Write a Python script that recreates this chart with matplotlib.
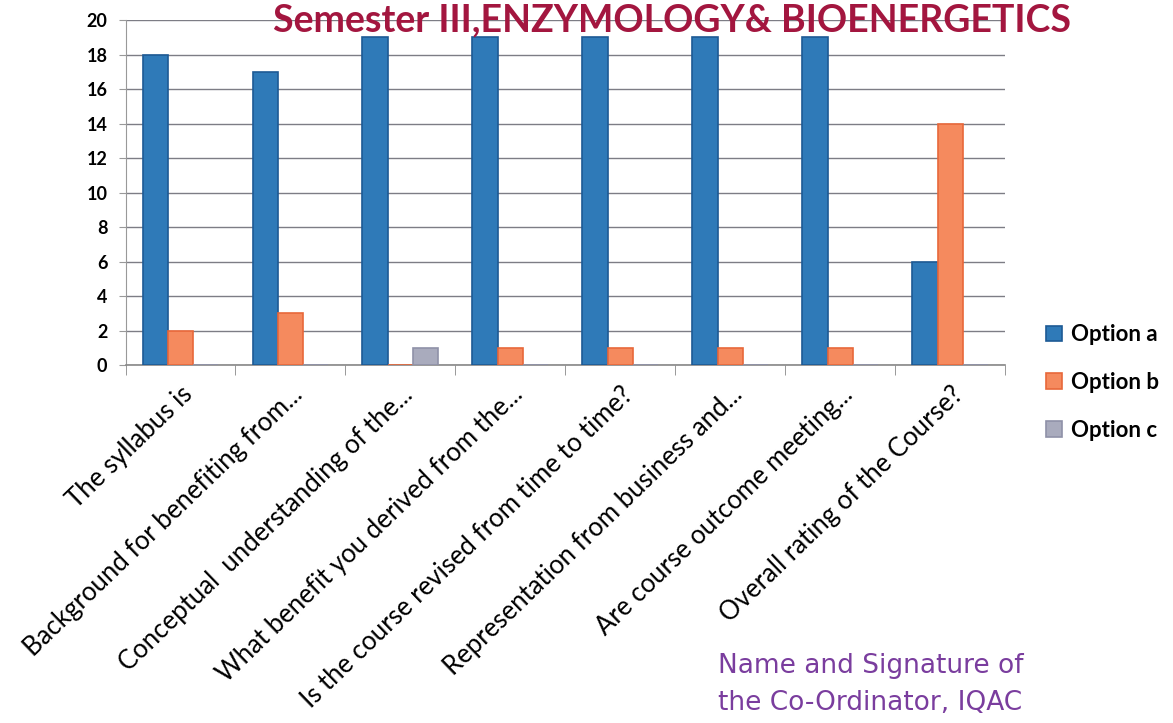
import numpy as np
import matplotlib
matplotlib.use("Agg")
from matplotlib import pyplot as plt

# data
questions = [
    "The syllabus is",
    "Background for benefiting from...",
    "Conceptual  understanding of the...",
    "What benefit you derived from the...",
    "Is the course revised from time to time?",
    "Representation from business and...",
    "Are course outcome meeting...",
    "Overall rating of the Course?",
]
option_a = [18, 17, 19, 19, 19, 19, 19, 6]
option_b = [2, 3, 0, 1, 1, 1, 1, 14]
option_c = [0, 0, 1, 0, 0, 0, 0, 0]
series_names = ["Option a", "Option b", "Option c"]
colors = ["#2f7ab8", "#f58a5e", "#a9abbd"]
edges = ["#1d5a95", "#e8683a", "#8f91a8"]

plt.rcParams["font.family"] = ["Lato", "DejaVu Sans"]

fig = plt.figure(figsize=(11.73, 7.23), dpi=100)
ax = fig.add_axes([0.107, 0.495, 0.750, 0.477])

x = np.arange(len(questions))
w = 0.23
for i, (vals, name) in enumerate(zip([option_a, option_b, option_c], series_names)):
    ax.bar(x + (i - 1) * w, vals, w, color=colors[i], edgecolor=edges[i],
           linewidth=1.2, label=name, zorder=3)

ax.set_xlim(-0.5, len(questions) - 0.5)
ax.set_ylim(0, 20)
ax.set_yticks(range(0, 21, 2))
ax.tick_params(axis="y", length=5, color="#999999", labelsize=13, pad=8)
for t in ax.get_yticklabels():
    t.set_fontweight("bold")
ax.yaxis.grid(True, color="#7d7d85", linewidth=1.0, zorder=0)

# excel-style ticks between the categories
ax.set_xticks(x)
ax.set_xticklabels(questions, rotation=44, ha="right", rotation_mode="anchor",
                   fontsize=18.5)
ax.tick_params(axis="x", length=0, pad=12)
ax.set_xticks(np.arange(-0.5, len(questions)), minor=True)
ax.tick_params(axis="x", which="minor", length=7, color="#888888")

for s in ["top", "right"]:
    ax.spines[s].set_visible(False)
ax.spines["left"].set_color("#999999")
ax.spines["bottom"].set_color("#888888")
ax.spines["bottom"].set_linewidth(1.2)

fig.legend(loc="upper left", bbox_to_anchor=(0.875, 0.579), frameon=False,
           prop={"size": 16, "weight": "bold"}, handlelength=0.7,
           handleheight=0.7, labelspacing=1.2, handletextpad=0.4)

fig.text(0.573, 0.972, "Semester III,ENZYMOLOGY& BIOENERGETICS", ha="center",
         va="center", fontsize=27, fontweight="bold", color="#a3163f")

fig.text(0.742, 0.079, "Name and Signature of", ha="center", va="center",
         fontsize=19, color="#7a3d9e", family="DejaVu Sans")
fig.text(0.742, 0.028, "the Co-Ordinator, IQAC", ha="center", va="center",
         fontsize=19, color="#7a3d9e", family="DejaVu Sans")

fig.savefig("out.png", dpi=100)
